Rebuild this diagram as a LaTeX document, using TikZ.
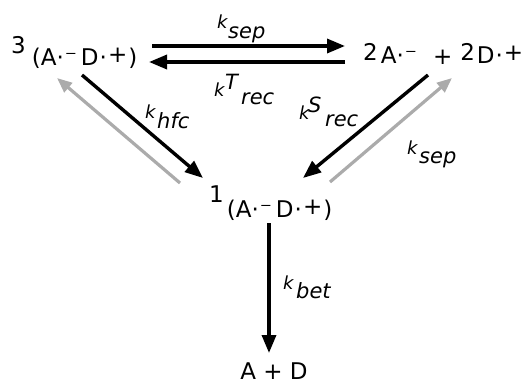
\documentclass[tikz,border=0pt]{standalone}
\usepackage{fontspec}
\setmainfont{DejaVu Sans}
\usetikzlibrary{arrows.meta}
\newcommand\radm{·\kern1pt⁻\kern4pt}
\newcommand\radp{\kern1pt·\kern1pt\raisebox{3pt}{+}\kern1pt}
\begin{document}
\begin{tikzpicture}[x=1pt,y=-1pt,
  species/.style={font=\fontsize{23}{27}\selectfont, inner sep=0pt, anchor=base west},
  kk/.style={font=\fontsize{18}{20}\selectfont\itshape, inner sep=0pt, anchor=base west},
  ks/.style={font=\fontsize{21}{24}\selectfont\itshape, inner sep=0pt, anchor=base west},
  fwd/.style={line width=3.4pt, -{Triangle[length=18pt,width=14pt]}},
  back/.style={line width=3.2pt, draw=black!33, -{Triangle[length=15pt,width=12pt]}}]
\useasboundingbox (0,0) rectangle (523,383);
% species
\node[species] (L) at (11,65) {\raisebox{12pt}{3}\kern6pt(A\radm D\radp)};
\node[species] (R) at (363,63) {\raisebox{3pt}{2}\kern3pt A\radm\kern12pt\raisebox{-1pt}{+}\kern8pt\raisebox{3pt}{2}\kern2pt D\radp};
\node[species] (M) at (209,217) {\raisebox{15pt}{1}\kern3pt(A\radm D\radp)};
\node[species, anchor=base] (B) at (274,379) {A + D};
% arrow end points
\coordinate (t1s) at (152,46); \coordinate (t1e) at (345,46);
\coordinate (t2s) at (345,62); \coordinate (t2e) at (149,62);
\coordinate (lbs) at (82,75);  \coordinate (lbe) at (203,178);
\coordinate (lgs) at (180,183); \coordinate (lge) at (57,78);
\coordinate (rbs) at (428,75); \coordinate (rbe) at (303,178);
\coordinate (rgs) at (330,182); \coordinate (rge) at (452,78);
\coordinate (vs) at (269,223); \coordinate (ve) at (269,353);
\draw[fwd] (t1s) -- (t1e);
\draw[fwd] (t2s) -- (t2e);
\draw[back] (lgs) -- (lge);
\draw[back] (rgs) -- (rge);
\draw[fwd] (lbs) -- (lbe);
\draw[fwd] (rbs) -- (rbe);
\draw[fwd] (vs) -- (ve);
% rate labels: k, superscript, subscript
\node[kk] (k1) at (217,28) {k};   \node[ks] (k1s) at (228,38) {sep};
\node[kk] (k2) at (214,96) {k};   \node[ks] (k2t) at (225,89) {T};  \node[ks] (k2s) at (241,104) {rec};
\node[kk] (k3) at (145,118) {k};  \node[ks] (k3s) at (157,128) {hfc};
\node[kk] (k4) at (299,119) {k};  \node[ks] (k4t) at (308,112) {S};  \node[ks] (k4s) at (325,126) {rec};
\node[kk] (k5) at (407,154) {k};  \node[ks] (k5s) at (419,163) {sep};
\node[kk] (k6) at (283,289) {k};  \node[ks] (k6s) at (296,298) {bet};
\end{tikzpicture}
\end{document}
